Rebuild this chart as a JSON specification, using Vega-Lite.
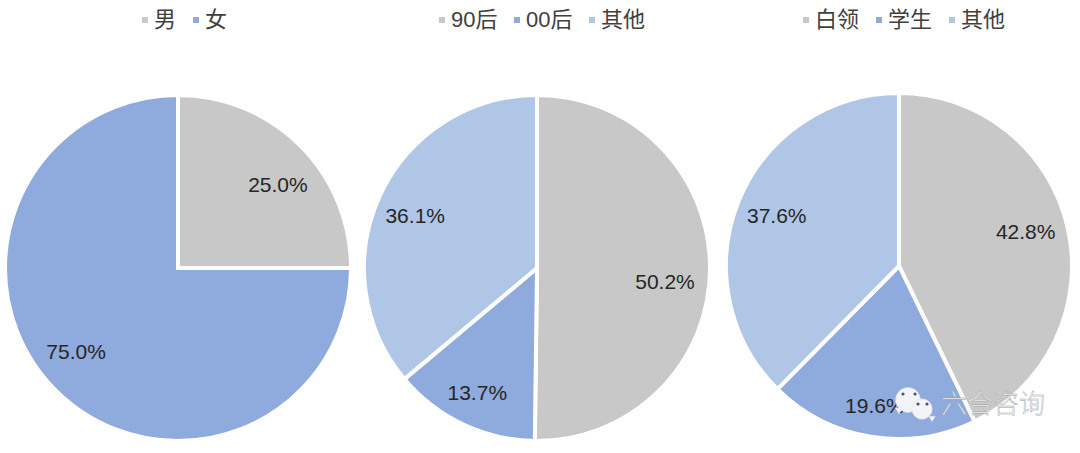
{
"$schema":"https://vega.github.io/schema/vega-lite/v6.json",
"background":"white",
"autosize":"pad",
"padding":{"left":-3,"top":9,"right":0,"bottom":0},
"spacing":-3,
"config":{"view":{"stroke":null},"text":{"font":"Liberation Sans, Noto Sans CJK SC"},"legend":{"labelFont":"Liberation Sans, Noto Sans CJK SC","labelFontSize":22,"labelColor":"#404040","symbolType":"square","symbolSize":36,"symbolStrokeWidth":0,"labelOffset":-2,"columnPadding":8,"title":null,"orient":"none","direction":"horizontal","padding":0}},
"hconcat":[
{"width":352,"height":342,
"data":{"values":[{"cat":"男","ord":1,"v":25.0,"label":"25.0%"},{"cat":"女","ord":2,"v":75.0,"label":"75.0%"}]},
"layer":[
{"mark":{"type":"arc","outerRadius":173,"stroke":"white","strokeWidth":4},
"encoding":{"theta":{"field":"v","type":"quantitative","stack":true,"scale":{"domain":[0,100]}},"order":{"field":"ord"},
"color":{"field":"cat","type":"nominal","sort":null,"scale":{"domain":["男","女"],"range":["#C8C8C8","#8FAADC"]},"legend":{"title":null,"columns":2,"legendX":132,"legendY":-88}}}},
{"mark":{"type":"text","radius":130,"fontSize":21,"color":"#262626","dx":8,"dy":10},
"encoding":{"theta":{"field":"v","type":"quantitative","stack":true,"scale":{"domain":[0,100]}},"order":{"field":"ord"},"detail":{"field":"cat"},"text":{"condition":{"test":"datum.cat!=='男'","value":""},"field":"label"}}},
{"mark":{"type":"text","radius":130,"fontSize":21,"color":"#262626","dx":-10,"dy":-7},
"encoding":{"theta":{"field":"v","type":"quantitative","stack":true,"scale":{"domain":[0,100]}},"order":{"field":"ord"},"detail":{"field":"cat"},"text":{"condition":{"test":"datum.cat!=='女'","value":""},"field":"label"}}}
]},
{"width":354,"height":342,
"data":{"values":[{"cat":"90后","ord":1,"v":50.2,"label":"50.2%"},{"cat":"00后","ord":2,"v":13.7,"label":"13.7%"},{"cat":"其他","ord":3,"v":36.1,"label":"36.1%"}]},
"layer":[
{"mark":{"type":"arc","outerRadius":173,"stroke":"white","strokeWidth":4},
"encoding":{"theta":{"field":"v","type":"quantitative","stack":true,"scale":{"domain":[0,100]}},"order":{"field":"ord"},
"color":{"field":"cat","type":"nominal","sort":null,"scale":{"domain":["90后","00后","其他"],"range":["#C8C8C8","#8FAADC","#AFC6E6"]},"legend":{"title":null,"columns":3,"legendX":71,"legendY":-88}}}},
{"mark":{"type":"text","radius":130,"fontSize":21,"color":"#262626","dx":-2,"dy":14},
"encoding":{"theta":{"field":"v","type":"quantitative","stack":true,"scale":{"domain":[0,100]}},"order":{"field":"ord"},"detail":{"field":"cat"},"text":{"condition":{"test":"datum.cat!=='90后'","value":""},"field":"label"}}},
{"mark":{"type":"text","radius":130,"fontSize":21,"color":"#262626","dx":-4,"dy":9},
"encoding":{"theta":{"field":"v","type":"quantitative","stack":true,"scale":{"domain":[0,100]}},"order":{"field":"ord"},"detail":{"field":"cat"},"text":{"condition":{"test":"datum.cat!=='00后'","value":""},"field":"label"}}},
{"mark":{"type":"text","radius":130,"fontSize":21,"color":"#262626","dx":-4,"dy":4},
"encoding":{"theta":{"field":"v","type":"quantitative","stack":true,"scale":{"domain":[0,100]}},"order":{"field":"ord"},"detail":{"field":"cat"},"text":{"condition":{"test":"datum.cat!=='其他'","value":""},"field":"label"}}}
]},
{"width":362,"height":338,
"layer":[
{"data":{"values":[{"cat":"白领","ord":1,"v":42.8,"label":"42.8%"},{"cat":"学生","ord":2,"v":19.6,"label":"19.6%"},{"cat":"其他","ord":3,"v":37.6,"label":"37.6%"}]},
"layer":[
{"mark":{"type":"arc","outerRadius":173,"stroke":"white","strokeWidth":4},
"encoding":{"theta":{"field":"v","type":"quantitative","stack":true,"scale":{"domain":[0,100]}},"order":{"field":"ord"},
"color":{"field":"cat","type":"nominal","sort":null,"scale":{"domain":["白领","学生","其他"],"range":["#C8C8C8","#8FAADC","#AFC6E6"]},"legend":{"title":null,"columns":3,"legendX":77,"legendY":-88}}}},
{"mark":{"type":"text","radius":130,"fontSize":21,"color":"#262626","dx":0,"dy":-4},
"encoding":{"theta":{"field":"v","type":"quantitative","stack":true,"scale":{"domain":[0,100]}},"order":{"field":"ord"},"detail":{"field":"cat"},"text":{"condition":{"test":"datum.cat!=='白领'","value":""},"field":"label"}}},
{"mark":{"type":"text","radius":130,"fontSize":21,"color":"#262626","dy":13,"dx":-3},
"encoding":{"theta":{"field":"v","type":"quantitative","stack":true,"scale":{"domain":[0,100]}},"order":{"field":"ord"},"detail":{"field":"cat"},"text":{"condition":{"test":"datum.cat!=='学生'","value":""},"field":"label"}}},
{"mark":{"type":"text","radius":130,"fontSize":21,"color":"#262626","dx":-2,"dy":0},
"encoding":{"theta":{"field":"v","type":"quantitative","stack":true,"scale":{"domain":[0,100]}},"order":{"field":"ord"},"detail":{"field":"cat"},"text":{"condition":{"test":"datum.cat!=='其他'","value":""},"field":"label"}}}
]},
{"data":{"values":[{"wx":898,"wy":411,"s":50,"shape":"triangle-down"},{"wx":931,"wy":419,"s":40,"shape":"triangle-down"},{"wx":907,"wy":400,"s":620,"shape":"circle"},{"wx":921,"wy":409,"s":420,"shape":"circle"}]},
"mark":{"type":"point","filled":true,"color":"#F2F4F8","stroke":"#D8DCE6","strokeWidth":0.5,"opacity":1},
"encoding":{"x":{"field":"wx","type":"quantitative","scale":{"domain":[717,1079],"range":[0,362]},"axis":null},"y":{"field":"wy","type":"quantitative","scale":{"domain":[97,435],"range":[0,338]},"axis":null},"size":{"field":"s","type":"quantitative","scale":{"domain":[0,1000],"range":[0,1000]},"legend":null},"shape":{"field":"shape","type":"nominal","scale":{"domain":["circle","triangle-down"],"range":["circle","triangle-down"]},"legend":null}}},
{"data":{"values":[{"wx":902,"wy":394},{"wx":914,"wy":394},{"wx":917,"wy":404},{"wx":926,"wy":404}]},
"mark":{"type":"point","filled":true,"color":"#4A5468","size":10,"opacity":1},
"encoding":{"x":{"field":"wx","type":"quantitative","scale":{"domain":[717,1079],"range":[0,362]},"axis":null},"y":{"field":"wy","type":"quantitative","scale":{"domain":[97,435],"range":[0,338]},"axis":null}}},
{"data":{"values":[{"wx":992,"wy":405,"label":"六合咨询"}]},
"mark":{"type":"text","font":"Noto Sans CJK SC","fontSize":26,"fontWeight":300,"fill":"#FAFAFA","stroke":"#999999","strokeWidth":0.4,"align":"center"},
"encoding":{"x":{"field":"wx","type":"quantitative","scale":{"domain":[717,1079],"range":[0,362]},"axis":null},"y":{"field":"wy","type":"quantitative","scale":{"domain":[97,435],"range":[0,338]},"axis":null},"text":{"field":"label"}}}
]}
],
"resolve":{"scale":{"color":"independent","theta":"independent"}}
}
